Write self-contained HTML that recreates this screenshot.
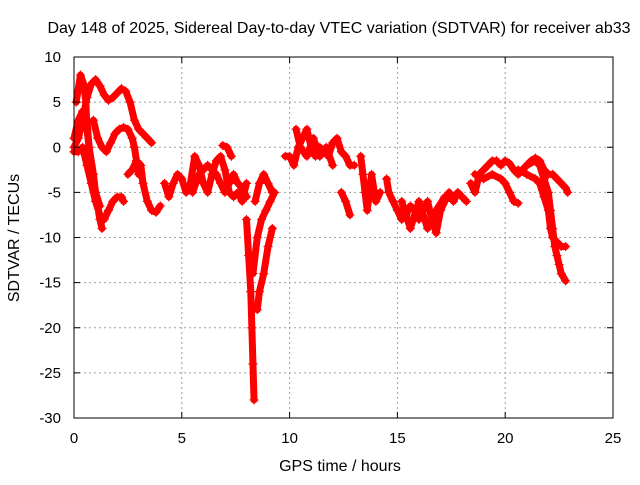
<!DOCTYPE html>
<html><head><meta charset="utf-8"><style>
body{margin:0;background:#fff;}
svg text{font-family:"Liberation Sans",sans-serif;font-size:15px;fill:#000;}
</style></head><body>
<svg id="chart" width="640" height="480" viewBox="0 0 640 480" xmlns="http://www.w3.org/2000/svg">
<rect width="640" height="480" fill="#fff"/>
<g id="grid"></g>
<g id="marks"></g>
<rect x="74" y="57" width="539" height="361" fill="none" stroke="#000" stroke-width="1"/>
<g id="ticks"></g>
<text x="339" y="33" text-anchor="middle" style="font-size:16px">Day 148 of 2025, Sidereal Day-to-day VTEC variation (SDTVAR) for receiver ab33</text>
<text x="340" y="471" text-anchor="middle" style="font-size:16px">GPS time / hours</text>
<text transform="translate(19,238) rotate(-90)" text-anchor="middle" style="font-size:16px">SDTVAR / TECUs</text>
</svg>
<script>
const xTicks=[0,5,10,15,20,25];
const yTicks=[-30,-25,-20,-15,-10,-5,0,5,10];
const trackA=[[0,0],[0.2,1],[0.4,3],[0.6,5.5],[0.8,7],[1.0,7.5],[1.2,6.8],[1.4,5.8],[1.6,5.2],[1.8,5.5],[2.0,6],[2.2,6.5],[2.4,6.2],[2.6,5],[2.8,3],[3.0,2],[3.2,1.5],[3.4,1],[3.6,0.5]];
const trackB=[[0.1,5],[0.3,8],[0.45,7],[0.55,5],[0.6,2],[0.7,0],[0.8,-2],[0.9,-4],[1.0,-5.5],[1.1,-6.5],[1.2,-8],[1.3,-9]];
const trackC=[[0,1],[0.2,3],[0.4,4],[0.6,3],[0.7,0],[0.9,-3],[1.0,-5],[1.2,-6.5]];
const trackD=[[0.9,3],[1.1,1],[1.3,0],[1.5,-0.5],[1.7,0.5],[1.9,1.5],[2.1,2],[2.3,2.2],[2.5,2],[2.7,1],[2.8,0],[2.9,-1.5],[3.0,-3]];
const trackE=[[0,-0.5],[0.2,-0.5],[0.4,0],[0.6,-2],[0.8,-4],[1.0,-6],[1.2,-7.5],[1.4,-8],[1.6,-7],[1.8,-6],[2.0,-5.5],[2.2,-5.5],[2.3,-6]];
const trackF=[[2.5,-3],[2.7,-2.5],[2.9,-1.5],[3.1,-2],[3.2,-4],[3.4,-6],[3.6,-7],[3.8,-7.2],[4.0,-6.5]];
const trackG=[[4.2,-4],[4.4,-5.5],[4.6,-4],[4.8,-3],[5.0,-3.5],[5.2,-5],[5.4,-4],[5.6,-1],[5.8,-2],[6.0,-4],[6.2,-5],[6.4,-3],[6.6,-1.5],[6.8,-1],[7.0,-2.5],[7.2,-5],[7.4,-5.5],[7.6,-5],[7.8,-6],[8.0,-4]];
const trackH=[[5.5,-5],[5.8,-3],[6.2,-2],[6.6,-3],[6.8,-4],[7.0,-5],[7.2,-4],[7.4,-3],[7.6,-4],[7.8,-4.5],[8.0,-5.5]];
const trackI=[[6.9,0.2],[7.1,0],[7.3,-1]];
const trackJ=[[8.0,-8],[8.1,-12],[8.2,-16],[8.25,-20],[8.3,-24],[8.35,-28]];
const trackK=[[8.3,-14],[8.5,-10],[8.7,-8],[8.9,-7],[9.1,-6],[9.3,-5]];
const trackL=[[8.4,-6],[8.6,-4],[8.8,-3],[9.0,-4],[9.2,-5]];
const trackM=[[8.5,-18],[8.6,-16],[8.8,-14],[9.0,-11],[9.2,-9]];
const trackN=[[9.8,-1],[10.0,-1],[10.2,-2],[10.4,0],[10.6,1],[10.8,2],[11.0,0],[11.2,-1],[11.4,0],[11.6,-0.5],[11.8,-1],[12.0,0.5],[12.2,1],[12.4,-0.5],[12.6,-1],[12.8,-2],[13.0,-2]];
const trackO=[[10.3,2],[10.5,0],[10.8,-1],[11.1,1],[11.4,-1],[11.7,0],[12.0,-2]];
const trackP=[[12.4,-5],[12.6,-6],[12.8,-7.5]];
const trackQ=[[13.3,-1],[13.4,-3],[13.5,-5],[13.6,-7],[13.8,-3],[14.0,-6],[14.2,-5]];
const trackR=[[14.5,-3.5],[14.6,-5],[14.8,-6],[15.0,-7],[15.2,-8],[15.4,-7.5],[15.6,-6.5],[15.8,-7],[16.0,-8],[16.2,-7],[16.4,-6],[16.6,-8],[16.8,-9.5],[17.0,-7],[17.2,-6],[17.4,-5],[17.6,-6],[17.8,-5],[18.0,-5.5],[18.2,-6]];
const trackS=[[15.2,-6],[15.6,-9],[16.0,-6],[16.4,-9],[16.8,-7],[17.2,-5.5]];
const trackT=[[18.4,-4],[18.6,-5],[18.8,-3],[19.0,-2.5],[19.2,-2],[19.4,-1.5],[19.6,-1.5],[19.8,-2],[20.0,-1.5],[20.2,-1.8],[20.4,-2.5],[20.6,-3],[20.8,-2.5],[21.0,-2],[21.2,-1.5],[21.4,-1.2],[21.6,-1.5],[21.8,-2.5],[22.0,-3],[22.2,-3],[22.4,-3.5],[22.6,-4],[22.8,-4.5],[22.9,-5]];
const trackU=[[18.6,-3],[19.0,-3.5],[19.4,-3],[19.8,-3.5],[20.0,-4],[20.2,-5],[20.4,-6],[20.6,-6.2]];
const trackV=[[20.6,-2.5],[21.0,-3],[21.4,-3.5],[21.6,-4],[21.8,-5.5],[22.0,-7],[22.1,-9],[22.2,-10],[22.4,-10.5],[22.6,-11],[22.8,-11]];
const trackW=[[21.0,-2],[21.4,-1.5],[21.6,-2],[21.8,-3.5],[22.0,-5],[22.1,-7],[22.2,-9],[22.3,-11],[22.4,-12],[22.5,-13],[22.6,-14],[22.8,-14.8]];
const tracks=[trackA,trackB,trackC,trackD,trackE,trackF,trackG,trackH,trackI,trackJ,trackK,trackL,trackM,trackN,trackO,trackP,trackQ,trackR,trackS,trackT,trackU,trackV,trackW];

const NS="http://www.w3.org/2000/svg";
const X0=74,X1=613,Y0=418,Y1=57;
function xs(t){return X0+(t-0)/(25-0)*(X1-X0);}
function ys(v){return Y0-(v-(-30))/(10-(-30))*(Y0-Y1);}
const grid=document.getElementById('grid'),ticks=document.getElementById('ticks'),marks=document.getElementById('marks');
function mk(tag,attrs,parent){const e=document.createElementNS(NS,tag);for(const k in attrs)e.setAttribute(k,attrs[k]);parent.appendChild(e);return e;}
xTicks.forEach(t=>{const x=xs(t);
 if(t>0&&t<25){const g=mk('line',{x1:x,x2:x,y1:Y1,y2:Y0,stroke:'#a0a0a0','stroke-dasharray':'2,3'},grid);}
 const a=mk('line',{x1:x,x2:x,y1:Y0,y2:Y0-6,stroke:'#000'},ticks);
 const b=mk('line',{x1:x,x2:x,y1:Y1,y2:Y1+6,stroke:'#000'},ticks);
 const l=mk('text',{x:x,y:443,'text-anchor':'middle'},ticks);l.textContent=t;});
yTicks.forEach(v=>{const y=ys(v);
 if(v>-30&&v<10){const g=mk('line',{x1:X0,x2:X1,y1:y,y2:y,stroke:'#a0a0a0','stroke-dasharray':'2,3'},grid);}
 const a=mk('line',{x1:X0,x2:X0+6,y1:y,y2:y,stroke:'#000'},ticks);
 const b=mk('line',{x1:X1,x2:X1-6,y1:y,y2:y,stroke:'#000'},ticks);
 const l=mk('text',{x:61,y:y+5,'text-anchor':'end'},ticks);l.textContent=v;});
tracks.forEach(tr=>{
 const pl=mk('polyline',{points:tr.map(p=>xs(p[0])+','+ys(p[1])).join(' '),fill:'none',stroke:'#f00','stroke-width':7,'stroke-linejoin':'round','stroke-linecap':'round'},marks);
 
 
 tr.forEach(p=>{const x=xs(p[0]),y=ys(p[1]);
  const m=mk('path',{d:`M${x-4.5},${y}h9M${x},${y-4.5}v9`,stroke:'#f00','stroke-width':1.2},marks);
  
  });
});
</script>
</body></html>
